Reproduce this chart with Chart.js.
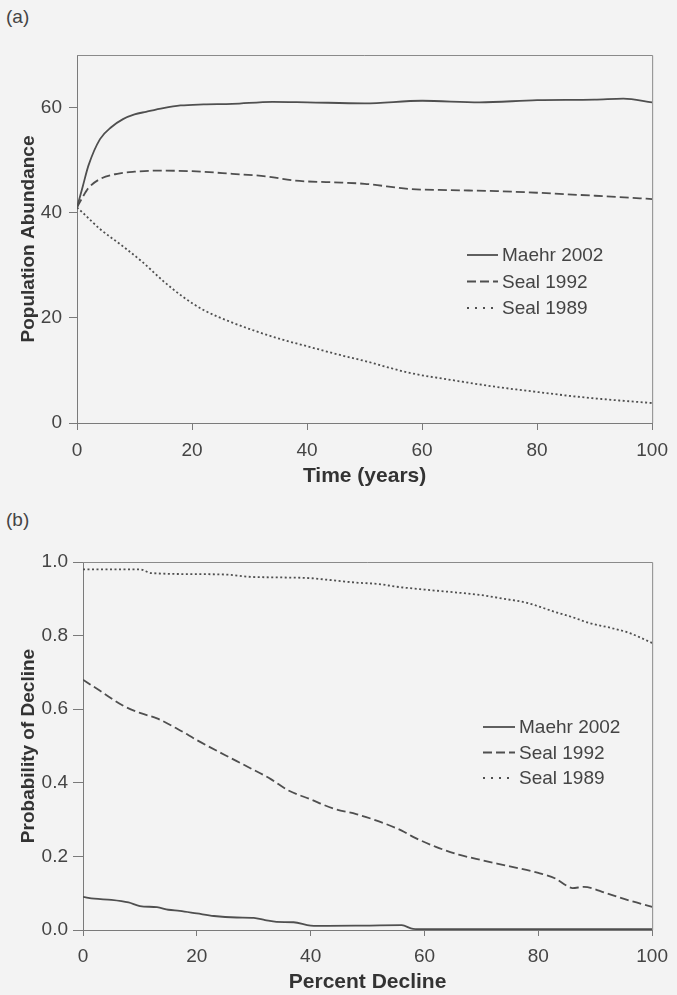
<!DOCTYPE html>
<html>
<head>
<meta charset="utf-8">
<script src="https://cdn.jsdelivr.net/npm/chart.js@4.4.1/dist/chart.umd.min.js"></script>
<style>
  html, body { margin: 0; padding: 0; background: #f3f3f3; }
  #wrap { position: relative; width: 677px; height: 995px; overflow: hidden; font-family: Arial, "Liberation Sans", sans-serif; }
  canvas { position: absolute; left: 0; }
  .tag { position: absolute; left: 6px; font-size: 19px; color: #444; }
</style>
</head>
<body>
<div id="wrap">
  <div class="tag" style="top:6px">(a)</div>
  <canvas id="chartA" width="677" height="495" style="top:0"></canvas>
  <div class="tag" style="top:509px">(b)</div>
  <canvas id="chartB" width="677" height="500" style="top:495px"></canvas>
</div>
<script>
// panel (a): population abundance over time
const seriesNames = ['Maehr 2002', 'Seal 1992', 'Seal 1989'];
const xTicks = [0, 20, 40, 60, 80, 100];
const yTicksA = [0, 20, 40, 60];
const yTicksB = [0, 0.2, 0.4, 0.6, 0.8, 1.0];

const maehrYears = [0, 1, 2, 4, 6, 8, 10, 12, 15, 18, 22, 27, 34, 40, 50, 60, 70, 80, 90, 95, 100];
const maehrAbund = [41, 45, 49, 54, 56.3, 57.8, 58.7, 59.2, 59.9, 60.4, 60.6, 60.7, 61.1, 61.0, 60.8, 61.3, 61.0, 61.4, 61.5, 61.7, 61.0];

const seal92Years = [0, 1, 2, 4, 7, 10, 14, 20, 27, 33, 38, 44, 50, 58, 65, 73, 80, 87, 94, 100];
const seal92Abund = [41, 43, 44.7, 46.4, 47.4, 47.8, 48, 47.9, 47.4, 46.9, 46.1, 45.8, 45.5, 44.5, 44.3, 44.1, 43.8, 43.4, 43, 42.6];

const seal89Years = [0, 1, 4, 8, 11.4, 15, 18.3, 22, 27, 31, 35.6, 40, 45.5, 50, 58, 65, 72.7, 80, 87, 93, 100];
const seal89Abund = [41, 40, 36.9, 33.6, 30.6, 27, 24.1, 21.5, 19.1, 17.5, 15.9, 14.6, 13, 11.8, 9.5, 8.2, 6.9, 5.9, 5.0, 4.4, 3.8];

// panel (b): probability of decline vs percent decline
const maehrPct = [0, 2, 5, 8, 10, 13, 15, 17, 20, 23, 27, 30, 32, 34, 37, 40, 43, 50, 56, 58, 60, 80, 100];
const maehrProb = [0.09, 0.085, 0.082, 0.075, 0.065, 0.062, 0.055, 0.052, 0.045, 0.038, 0.034, 0.033, 0.027, 0.022, 0.021, 0.012, 0.011, 0.012, 0.013, 0.003, 0.002, 0.002, 0.002];

const seal92Pct = [0, 3, 7, 10, 13, 17, 20, 25, 29, 33, 36, 40, 44, 48, 52, 56, 58, 62, 66, 70, 75, 80, 83, 85, 86, 88, 92, 96, 100];
const seal92Prob = [0.68, 0.65, 0.61, 0.59, 0.575, 0.543, 0.516, 0.475, 0.443, 0.41, 0.38, 0.355, 0.33, 0.315, 0.295, 0.27, 0.253, 0.226, 0.205, 0.19, 0.173, 0.155, 0.14, 0.12, 0.114, 0.117, 0.1, 0.08, 0.063];

const seal89Pct = [0, 10, 12, 20, 26, 29, 35, 40, 44, 48, 52, 55, 60, 65, 70, 74, 78, 83, 86, 89, 93, 96, 100];
const seal89Prob = [0.98, 0.98, 0.97, 0.967, 0.965, 0.96, 0.958, 0.956, 0.95, 0.944, 0.94, 0.933, 0.925, 0.918, 0.91, 0.9, 0.889, 0.864, 0.85, 0.834, 0.82, 0.807, 0.78];

Chart.defaults.font.family = 'Arial, "Liberation Sans", sans-serif';
Chart.defaults.color = '#444';

const LINE = '#4f4f4f';
const styles = [
  { borderDash: [] },
  { borderDash: [9, 4] },
  { borderDash: [2, 2.5] }
];

function pts(xs, ys) {
  return xs.map((x, i) => ({ x: x, y: ys[i] }));
}

function makeSets(groups) {
  return groups.map((g, i) => ({
    label: seriesNames[i],
    data: pts(g[0], g[1]),
    borderColor: LINE,
    borderWidth: 1.8,
    borderDash: styles[i].borderDash,
    pointRadius: 0,
    cubicInterpolationMode: 'monotone',
    fill: false
  }));
}

// frame around the plot + legend drawn inside it
const frameLegend = {
  id: 'frameLegend',
  afterDraw(chart, args, o) {
    const { ctx, chartArea: a } = chart;
    ctx.save();
    ctx.strokeStyle = '#8a8a8a';
    ctx.lineWidth = 1;
    ctx.beginPath();
    ctx.moveTo(a.left, a.top + 0.5);
    ctx.lineTo(a.right + 0.5, a.top + 0.5);
    ctx.lineTo(a.right + 0.5, a.bottom);
    ctx.stroke();

    ctx.font = '19px Arial, "Liberation Sans", sans-serif';
    ctx.fillStyle = '#444';
    ctx.textBaseline = 'middle';
    chart.data.datasets.forEach((ds, i) => {
      const y = o.y + i * o.gap;
      ctx.strokeStyle = ds.borderColor;
      ctx.lineWidth = ds.borderWidth;
      ctx.setLineDash(i === 2 ? [2, 6] : ds.borderDash);
      ctx.beginPath();
      ctx.moveTo(o.x, y);
      ctx.lineTo(o.x + o.len, y);
      ctx.stroke();
      ctx.setLineDash([]);
      ctx.fillText(ds.label, o.x + o.len + 4, y + 1);
    });
    ctx.restore();
  }
};

function scaleOpts(cfg) {
  const axisCol = '#7a7a7a';
  return {
    x: {
      type: 'linear', min: 0, max: 100,
      afterBuildTicks: s => { s.ticks = xTicks.map(v => ({ value: v })); },
      afterFit: s => { s.height = cfg.xHeight; },
      grid: { drawOnChartArea: false, drawTicks: true, tickLength: cfg.xTick, color: axisCol },
      border: { color: axisCol, width: 1 },
      ticks: { font: { size: 19 }, padding: cfg.xPad, maxRotation: 0, autoSkip: false, color: '#444' },
      title: { display: true, text: cfg.xTitle, font: { size: 21, weight: 'bold' }, color: '#333', padding: { top: 0, bottom: cfg.xTitlePad } }
    },
    y: {
      type: 'linear', min: 0, max: cfg.yMax,
      afterBuildTicks: s => { s.ticks = cfg.yTicks.map(v => ({ value: v })); },
      afterFit: s => { s.width = cfg.yWidth; },
      grid: { drawOnChartArea: false, drawTicks: true, tickLength: cfg.yTick, color: axisCol },
      border: { color: axisCol, width: 1 },
      ticks: { font: { size: 19 }, padding: cfg.yPad, color: '#444', callback: cfg.fmt },
      title: { display: true, text: cfg.yTitle, font: { size: 19, weight: 'bold' }, color: '#333', padding: { top: 17, bottom: 0 } }
    }
  };
}

new Chart(document.getElementById('chartA'), {
  type: 'line',
  data: {
    datasets: makeSets([[maehrYears, maehrAbund], [seal92Years, seal92Abund], [seal89Years, seal89Abund]])
  },
  options: {
    responsive: false, animation: false, devicePixelRatio: 1,
    layout: { padding: { top: 55, right: 23, left: 0, bottom: 0 } },
    plugins: { legend: { display: false }, tooltip: { enabled: false },
      frameLegend: { x: 467, y: 255, gap: 26.5, len: 31 } },
    scales: scaleOpts({ xTitle: 'Time (years)', yTitle: 'Population Abundance', yMax: 70, yTicks: yTicksA,
      fmt: v => v, yWidth: 77, xHeight: 72, xTick: 7, yTick: 8, xPad: 9, yPad: 7, xTitlePad: 6 })
  },
  plugins: [frameLegend]
});

new Chart(document.getElementById('chartB'), {
  type: 'line',
  data: {
    datasets: makeSets([[maehrPct, maehrProb], [seal92Pct, seal92Prob], [seal89Pct, seal89Prob]])
  },
  options: {
    responsive: false, animation: false, devicePixelRatio: 1,
    layout: { padding: { top: 67, right: 17, left: 0, bottom: 0 } },
    plugins: { legend: { display: false }, tooltip: { enabled: false },
      frameLegend: { x: 483, y: 232, gap: 25.5, len: 32 } },
    scales: scaleOpts({ xTitle: 'Percent Decline', yTitle: 'Probability of Decline', yMax: 1.0, yTicks: yTicksB,
      fmt: v => v.toFixed(1), yWidth: 83, xHeight: 65, xTick: 6, yTick: 10, xPad: 9, yPad: 5, xTitlePad: 0 })
  },
  plugins: [frameLegend]
});
</script>
</body>
</html>
